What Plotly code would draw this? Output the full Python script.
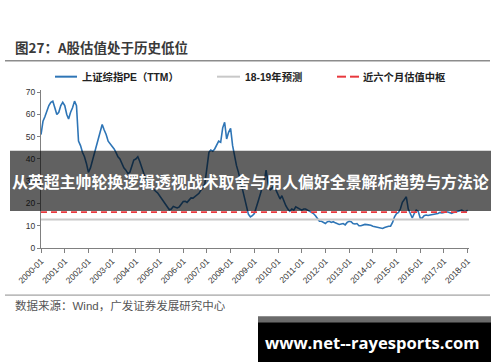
import plotly.graph_objects as go
import pandas as pd

# ---------------- data ----------------
pe_2000 = [51, 57, 59, 62, 64, 65.5, 66, 63, 60, 61, 64, 65.5]
pe_2001 = [64, 60, 58, 61, 63, 66, 64, 48, 46, 43, 41, 38]
pe_2002 = [34, 36, 39, 43, 46, 50, 53, 55.5, 53, 51, 48, 47]
pe_2003 = [46, 44.5, 43, 41, 40, 37.5, 36, 35, 33.5, 34, 37, 39.5]
pe_2004 = [40, 41, 39, 36, 33, 31, 29, 28, 27, 26, 25.5, 24.8]
pe_2005 = [23.5, 22.5, 21, 19.5, 18.5, 17.2, 17.5, 18.7, 18.3, 18, 18.5, 19.5]
pe_2006 = [20.9, 21, 20.5, 21.5, 22.5, 22.4, 23, 24, 24.6, 26, 27, 29]
pe_2007 = [36, 43, 44, 43.5, 44.5, 46, 48, 47.5, 54, 56.5, 49, 52]
pe_2008 = [53.8, 46, 41, 37, 34, 30, 27, 23, 19, 15.2, 14, 14.5]
pe_2009 = [15.5, 18, 21, 24, 27, 30, 35, 29, 26, 27, 28, 26]
pe_2010 = [24, 22, 23.5, 21, 19, 17.5, 16.5, 17.5, 17, 18.5, 18, 17.5]
pe_2011 = [17, 17.5, 17.5, 17, 16.5, 16, 15.5, 14.5, 13, 12, 12, 11.3]
pe_2012 = [11, 11.8, 12, 11.5, 11.8, 11.3, 11, 10.6, 10.8, 11, 10.4, 11.5]
pe_2013 = [12, 11.8, 11, 10.8, 11, 10, 10, 10.4, 10.6, 10.5, 10.4, 10.2]
pe_2014 = [9.8, 9.6, 9.3, 9.2, 9, 8.8, 9.2, 9.6, 9.8, 9.8, 11.5, 14]
pe_2015 = [15.5, 16, 17.5, 20.5, 21.5, 23, 17.5, 15.5, 13.5, 15.5, 17, 16.5]
pe_2016 = [13.5, 13.5, 14.5, 14.8, 14.6, 14.8, 15, 15.3, 15.2, 15.5, 16, 15.8]
pe_2017 = [16, 16.3, 16.2, 16, 15.6, 16, 16.3, 16.5, 16.8, 17, 16.5, 16.3]
pe_2018 = [17]

pe_ttm = (pe_2000 + pe_2001 + pe_2002 + pe_2003 + pe_2004 + pe_2005 + pe_2006
          + pe_2007 + pe_2008 + pe_2009 + pe_2010 + pe_2011 + pe_2012 + pe_2013
          + pe_2014 + pe_2015 + pe_2016 + pe_2017 + pe_2018)
months = pd.date_range("2000-01-01", periods=len(pe_ttm), freq="MS")

forecast_1819 = 12.8      # 18-19年预测
median_6m = 16.1          # 近六个月估值中枢

tick_labels = ["2000-01", "2001-01", "2002-01", "2003-01", "2004-01", "2005-01",
               "2006-01", "2007-01", "2008-01", "2009-01", "2010-01", "2011-01",
               "2012-01", "2013-01", "2014-01", "2015-01", "2016-01", "2017-01",
               "2018-01"]

series_names = ["上证综指PE（TTM）", "18-19年预测", "近六个月估值中枢"]

# ---------------- layout helpers ----------------
W, H = 500, 362
L, R, T, B = 41, 469, 90.3, 248


def px(x):
    return (x - L) / (R - L)


def py(y):
    return (B - y) / (B - T)


CJK = "Noto Sans CJK SC"
LAT = "Liberation Sans, Noto Sans CJK SC"

fig = go.Figure()
fig.add_trace(go.Scatter(x=months, y=pe_ttm, mode="lines",
                         line=dict(color="#2E75B6", width=1.6),
                         name=series_names[0], showlegend=False))
fig.add_trace(go.Scatter(x=[months[0], "2018-01-22"], y=[forecast_1819, forecast_1819],
                         mode="lines", line=dict(color="#C8C8C8", width=2),
                         name=series_names[1], showlegend=False))
fig.add_trace(go.Scatter(x=[months[0], months[-1]], y=[median_6m, median_6m],
                         mode="lines", line=dict(color="#E8383D", width=1.6, dash="6px,4px"),
                         name=series_names[2], showlegend=False))

shapes = []
# title rule and bottom rule
shapes.append(dict(type="line", xref="paper", yref="paper", x0=px(5), x1=px(490),
                   y0=py(61), y1=py(61), line=dict(color="#8C8C8C", width=1.5)))
shapes.append(dict(type="line", xref="paper", yref="paper", x0=px(5), x1=px(490),
                   y0=py(295), y1=py(295), line=dict(color="#8C8C8C", width=1)))
# legend symbols
ly = py(77)
shapes.append(dict(type="line", xref="paper", yref="paper", x0=px(55), x1=px(77),
                   y0=ly, y1=ly, line=dict(color="#2E75B6", width=2)))
shapes.append(dict(type="line", xref="paper", yref="paper", x0=px(217), x1=px(240),
                   y0=ly, y1=ly, line=dict(color="#C8C8C8", width=2)))
shapes.append(dict(type="line", xref="paper", yref="paper", x0=px(337), x1=px(346),
                   y0=ly, y1=ly, line=dict(color="#E8383D", width=2)))
shapes.append(dict(type="line", xref="paper", yref="paper", x0=px(350), x1=px(359),
                   y0=ly, y1=ly, line=dict(color="#E8383D", width=2)))
# dark overlay band
shapes.append(dict(type="rect", xref="paper", yref="paper", x0=px(10), x1=px(491),
                   y0=py(211), y1=py(151), fillcolor="rgba(0,0,0,0.62)",
                   line=dict(width=0), layer="above"))
# watermark box
shapes.append(dict(type="rect", xref="paper", yref="paper", x0=px(258), x1=px(491),
                   y0=py(322), y1=py(316), fillcolor="#6B6B6B",
                   line=dict(width=0), layer="above"))
shapes.append(dict(type="rect", xref="paper", yref="paper", x0=px(258), x1=px(491),
                   y0=py(364), y1=py(322), fillcolor="#000000",
                   line=dict(width=0), layer="above"))

annotations = [
    dict(text="<b>图27：A股估值处于历史低位</b>", x=px(13), y=py(47), xref="paper", yref="paper",
         xanchor="left", yanchor="middle", showarrow=False,
         font=dict(family=CJK, size=13.5, color="#3A3A3A")),
    dict(text="<b>" + series_names[0] + "</b>", x=px(80), y=ly, xref="paper", yref="paper",
         xanchor="left", yanchor="middle", showarrow=False,
         font=dict(family=LAT, size=10.3, color="#222222")),
    dict(text="<b>" + series_names[1] + "</b>", x=px(243), y=ly, xref="paper", yref="paper",
         xanchor="left", yanchor="middle", showarrow=False,
         font=dict(family=LAT, size=10.3, color="#222222")),
    dict(text="<b>" + series_names[2] + "</b>", x=px(361), y=ly, xref="paper", yref="paper",
         xanchor="left", yanchor="middle", showarrow=False,
         font=dict(family=LAT, size=10.3, color="#222222")),
    dict(text="<b>从英超主帅轮换逻辑透视战术取舍与用人偏好全景解析趋势与方法论</b>",
         x=px(250.5), y=py(182), xref="paper", yref="paper",
         xanchor="center", yanchor="middle", showarrow=False,
         font=dict(family=CJK, size=15.9, color="#FFFFFF")),
    dict(text="数据来源：Wind，广发证券发展研究中心", x=px(13), y=py(305),
         xref="paper", yref="paper", xanchor="left", yanchor="middle", showarrow=False,
         font=dict(family=LAT, size=11.5, color="#555555")),
    dict(text="<b>www.net--rayesports.com</b>", x=px(372), y=py(342),
         xref="paper", yref="paper", xanchor="center", yanchor="middle", showarrow=False,
         font=dict(family="Open Sans", size=16.6, color="#FFFFFF")),
]

fig.update_layout(
    width=W, height=H,
    margin=dict(l=L, r=W - R, t=T, b=H - B, pad=0),
    paper_bgcolor="white", plot_bgcolor="white",
    showlegend=False,
    shapes=shapes, annotations=annotations,
    xaxis=dict(type="date", range=["2000-01-01", "2018-01-22"],
               tickvals=tick_labels, ticktext=tick_labels, tickangle=-45,
               ticks="outside", ticklen=4, tickcolor="#808080",
               showline=True, linecolor="#808080", linewidth=1,
               showgrid=False, zeroline=False,
               tickfont=dict(family=LAT, size=8.5, color="#333333")),
    yaxis=dict(range=[0, 71], tickvals=[0, 10, 20, 30, 40, 50, 60, 70],
               ticks="outside", ticklen=3, tickcolor="#808080",
               showline=True, linecolor="#808080", linewidth=1,
               showgrid=False, zeroline=False,
               tickfont=dict(family=LAT, size=8.5, color="#333333")),
)

fig.write_html("out.html", config={"displayModeBar": False},
               post_script="document.body.style.margin='0px';document.body.style.overflow='hidden';")
